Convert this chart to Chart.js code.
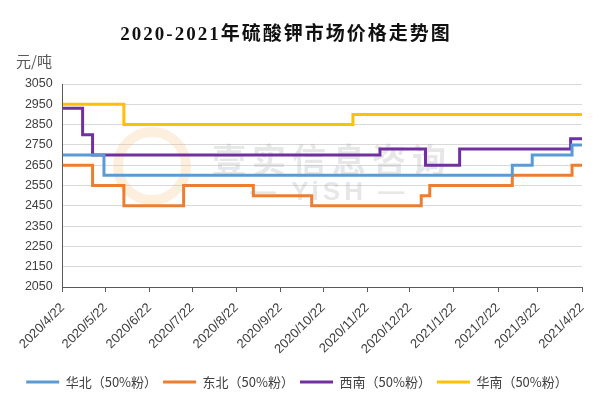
<!DOCTYPE html>
<html>
<head>
<meta charset="utf-8">
<script src="https://cdn.jsdelivr.net/npm/chart.js@4"></script>
<style>
  html, body { margin: 0; padding: 0; background: #fff; }
  #wrap { width: 605px; height: 412px; }
</style>
</head>
<body>
<div id="wrap"><canvas id="price-chart"></canvas></div>
<script>
// x positions are days since 2020/4/22
const monthDays = [0, 30, 61, 91, 122, 153, 183, 214, 244, 275, 306, 334, 365];
const monthLabels = ["2020/4/22", "2020/5/22", "2020/6/22", "2020/7/22", "2020/8/22", "2020/9/22",
  "2020/10/22", "2020/11/22", "2020/12/22", "2021/1/22", "2021/2/22", "2021/3/22", "2021/4/22"];
const seriesNames = ["华北（50%粉）", "东北（50%粉）", "西南（50%粉）", "华南（50%粉）"];

const huabeiDays = [0, 29, 316, 330, 358, 365];
const huabeiVals = [2700, 2600, 2650, 2700, 2750, 2750];
const dongbeiDays = [0, 21, 43, 85, 134, 175, 252, 258, 316, 358, 365];
const dongbeiVals = [2650, 2550, 2450, 2550, 2500, 2450, 2500, 2550, 2600, 2650, 2650];
const xinanDays = [0, 14, 21, 223, 255, 279, 357, 365];
const xinanVals = [2930, 2800, 2700, 2730, 2650, 2730, 2780, 2780];
const huananDays = [0, 43, 204, 365];
const huananVals = [2950, 2850, 2900, 2900];

const colors = ["#5B9BD5", "#ED7D31", "#7030A0", "#FFC000"];

function toPoints(days, vals) {
  return days.map((d, i) => ({ x: d, y: vals[i] }));
}

const extras = {
  id: "extras",
  afterLayout(chart) {
    // nudge the legend row to the right, as in the source picture
    chart.legend.left += 6;
    chart.legend.right += 6;
  },
  beforeDatasetsDraw(chart) {
    const ctx = chart.ctx;
    ctx.save();
    // faint watermark
    ctx.strokeStyle = "rgba(245, 190, 120, 0.25)";
    ctx.lineWidth = 10;
    ctx.beginPath();
    ctx.arc(152, 166, 34, 0, Math.PI * 2);
    ctx.stroke();
    ctx.fillStyle = "rgba(170, 170, 170, 0.28)";
    ctx.font = "bold 34px 'Noto Sans CJK SC'";
    ctx.textBaseline = "middle";
    ctx.letterSpacing = "6px";
    ctx.fillText("壹实信息咨询", 212, 160);
    ctx.font = "bold 26px 'Liberation Sans'";
    ctx.letterSpacing = "4px";
    ctx.fillText("— YiSH —", 250, 193);
    ctx.restore();
  },
  afterDraw(chart) {
    const ctx = chart.ctx;
    ctx.save();
    ctx.fillStyle = "#111";
    ctx.font = "bold 19px 'Liberation Serif', 'Noto Sans CJK SC'";
    ctx.letterSpacing = "2px";
    ctx.textAlign = "center";
    ctx.textBaseline = "middle";
    ctx.fillText("2020-2021年硫酸钾市场价格走势图", 286, 35);
    ctx.letterSpacing = "0px";
    ctx.fillStyle = "#595959";
    ctx.font = "15px 'Noto Sans CJK SC'";
    ctx.textAlign = "left";
    ctx.fillText("元/吨", 16, 61);
    ctx.restore();
  }
};

new Chart("price-chart", {
  type: "line",
  data: {
    datasets: [
      { label: seriesNames[0], data: toPoints(huabeiDays, huabeiVals), borderColor: colors[0], backgroundColor: colors[0] },
      { label: seriesNames[1], data: toPoints(dongbeiDays, dongbeiVals), borderColor: colors[1], backgroundColor: colors[1] },
      { label: seriesNames[2], data: toPoints(xinanDays, xinanVals), borderColor: colors[2], backgroundColor: colors[2] },
      { label: seriesNames[3], data: toPoints(huananDays, huananVals), borderColor: colors[3], backgroundColor: colors[3] },
    ],
  },
  options: {
    responsive: true,
    maintainAspectRatio: false,
    animation: false,
    layout: { padding: { top: 84, right: 23, bottom: 13.5, left: 0 } },
    elements: {
      line: { borderWidth: 3, stepped: true, tension: 0 },
      point: { radius: 0, borderWidth: 3 },
    },
    scales: {
      x: {
        type: "linear",
        min: 0,
        max: 365,
        afterBuildTicks: (scale) => { scale.ticks = monthDays.map((v) => ({ value: v })); },
        afterFit: (scale) => { scale.height = 82.5; },
        ticks: {
          autoSkip: false,
          minRotation: 45,
          maxRotation: 45,
          padding: 8,
          color: "#404040",
          font: { family: "'Liberation Sans'", size: 13 },
          callback: (v, i) => monthLabels[i],
        },
        grid: { drawOnChartArea: false, drawTicks: true, tickLength: 5, color: "#595959" },
        border: { color: "#595959", width: 1 },
      },
      y: {
        min: 2050,
        max: 3050,
        afterFit: (scale) => { scale.width = 62.7; },
        ticks: {
          stepSize: 100,
          autoSkip: false,
          padding: 10,
          color: "#404040",
          font: { family: "'Liberation Sans'", size: 12.5 },
          callback: (v) => String(v),
        },
        grid: { color: "#d9d9d9", drawTicks: false },
        border: { color: "#595959", width: 1 },
      },
    },
    plugins: {
      title: { display: false },
      tooltip: { enabled: false },
      legend: {
        position: "bottom",
        labels: {
          usePointStyle: true,
          pointStyle: "line",
          pointStyleWidth: 33,
          boxHeight: 13,
          padding: 6,
          color: "#404040",
          font: { family: "'Noto Sans CJK SC'", size: 13 },
        },
      },
    },
  },
  plugins: [extras],
});
</script>
</body>
</html>
